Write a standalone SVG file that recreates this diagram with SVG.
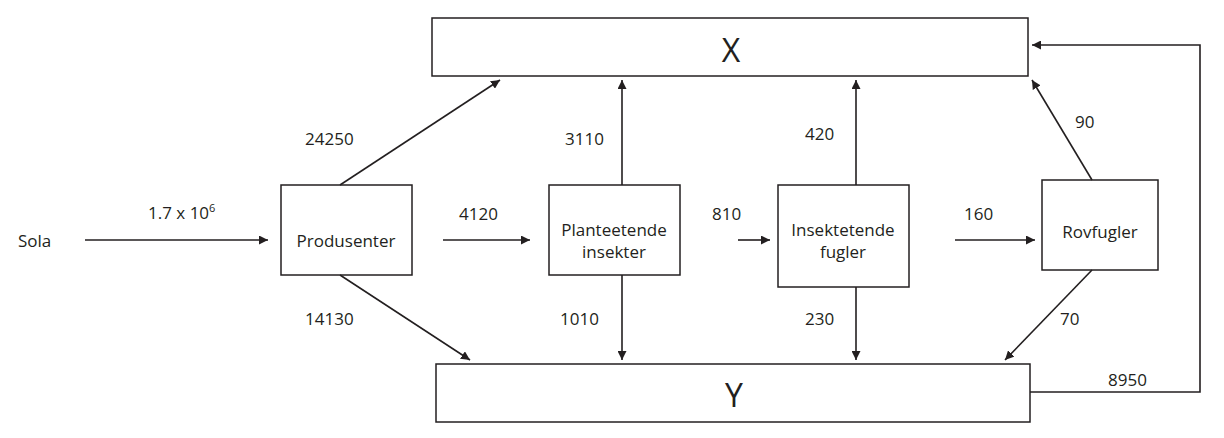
<svg xmlns="http://www.w3.org/2000/svg" width="1224" height="438" viewBox="0 0 1224 438">
<style>
rect{fill:#fff;stroke:#231f20;stroke-width:1.5}
text{font-family:"Open Sans","Liberation Sans",sans-serif;font-size:17px;fill:#231f20}
.c{text-anchor:middle}
.big{font-size:32px}
#conn line,#conn path{stroke:#231f20;stroke-width:1.6;fill:none;marker-end:url(#a)}
</style>
<defs><marker id="a" viewBox="0 0 10 10" refX="10" refY="5" markerWidth="9" markerHeight="9" markerUnits="userSpaceOnUse" orient="auto"><path d="M0,0 L10,5 L0,10 Z" fill="#231f20"/></marker></defs>
<g id="X"><rect x="432" y="18" width="596" height="58"/><text class="c big" x="731" y="62">X</text></g>
<g id="Y"><rect x="436" y="364" width="594" height="58"/><text class="c big" x="734" y="407">Y</text></g>
<g id="sola"><text x="18" y="247">Sola</text></g>
<g id="produsenter"><rect x="281" y="185" width="131" height="90"/><text class="c" x="346" y="247">Produsenter</text></g>
<g id="planteetende"><rect x="549" y="185" width="131" height="90"/><text class="c" x="614" y="236">Planteetende</text><text class="c" x="614" y="258">insekter</text></g>
<g id="insektetende"><rect x="778" y="185" width="131" height="102"/><text class="c" x="843" y="236">Insektetende</text><text class="c" x="843" y="258">fugler</text></g>
<g id="rovfugler"><rect x="1042" y="180" width="116" height="90"/><text class="c" x="1100" y="238">Rovfugler</text></g>
<g id="conn">
<line x1="85" y1="240" x2="268" y2="240"/>
<line x1="443" y1="240" x2="530" y2="240"/>
<line x1="738" y1="240" x2="770" y2="240"/>
<line x1="955" y1="240" x2="1035" y2="240"/>
<line x1="340" y1="185" x2="500" y2="80"/>
<line x1="340" y1="275" x2="470" y2="360"/>
<line x1="622" y1="185" x2="622" y2="80"/>
<line x1="622" y1="275" x2="622" y2="360"/>
<line x1="856" y1="185" x2="856" y2="80"/>
<line x1="856" y1="287" x2="856" y2="360"/>
<line x1="1092" y1="180" x2="1032" y2="80"/>
<line x1="1092" y1="270" x2="1005" y2="360"/>
<path d="M1030,392 H1200 V45 H1032"/>
</g>
<g id="labels">
<text x="148" y="219">1.7 x 10<tspan font-size="11" dy="-7">6</tspan></text>
<text x="459" y="220">4120</text>
<text x="712" y="220">810</text>
<text x="964" y="220">160</text>
<text x="305" y="145">24250</text>
<text x="305" y="325">14130</text>
<text x="565" y="145">3110</text>
<text x="560" y="325">1010</text>
<text x="805" y="140">420</text>
<text x="805" y="325">230</text>
<text x="1075" y="128">90</text>
<text x="1060" y="325">70</text>
<text x="1108" y="386">8950</text>
</g>
</svg>
